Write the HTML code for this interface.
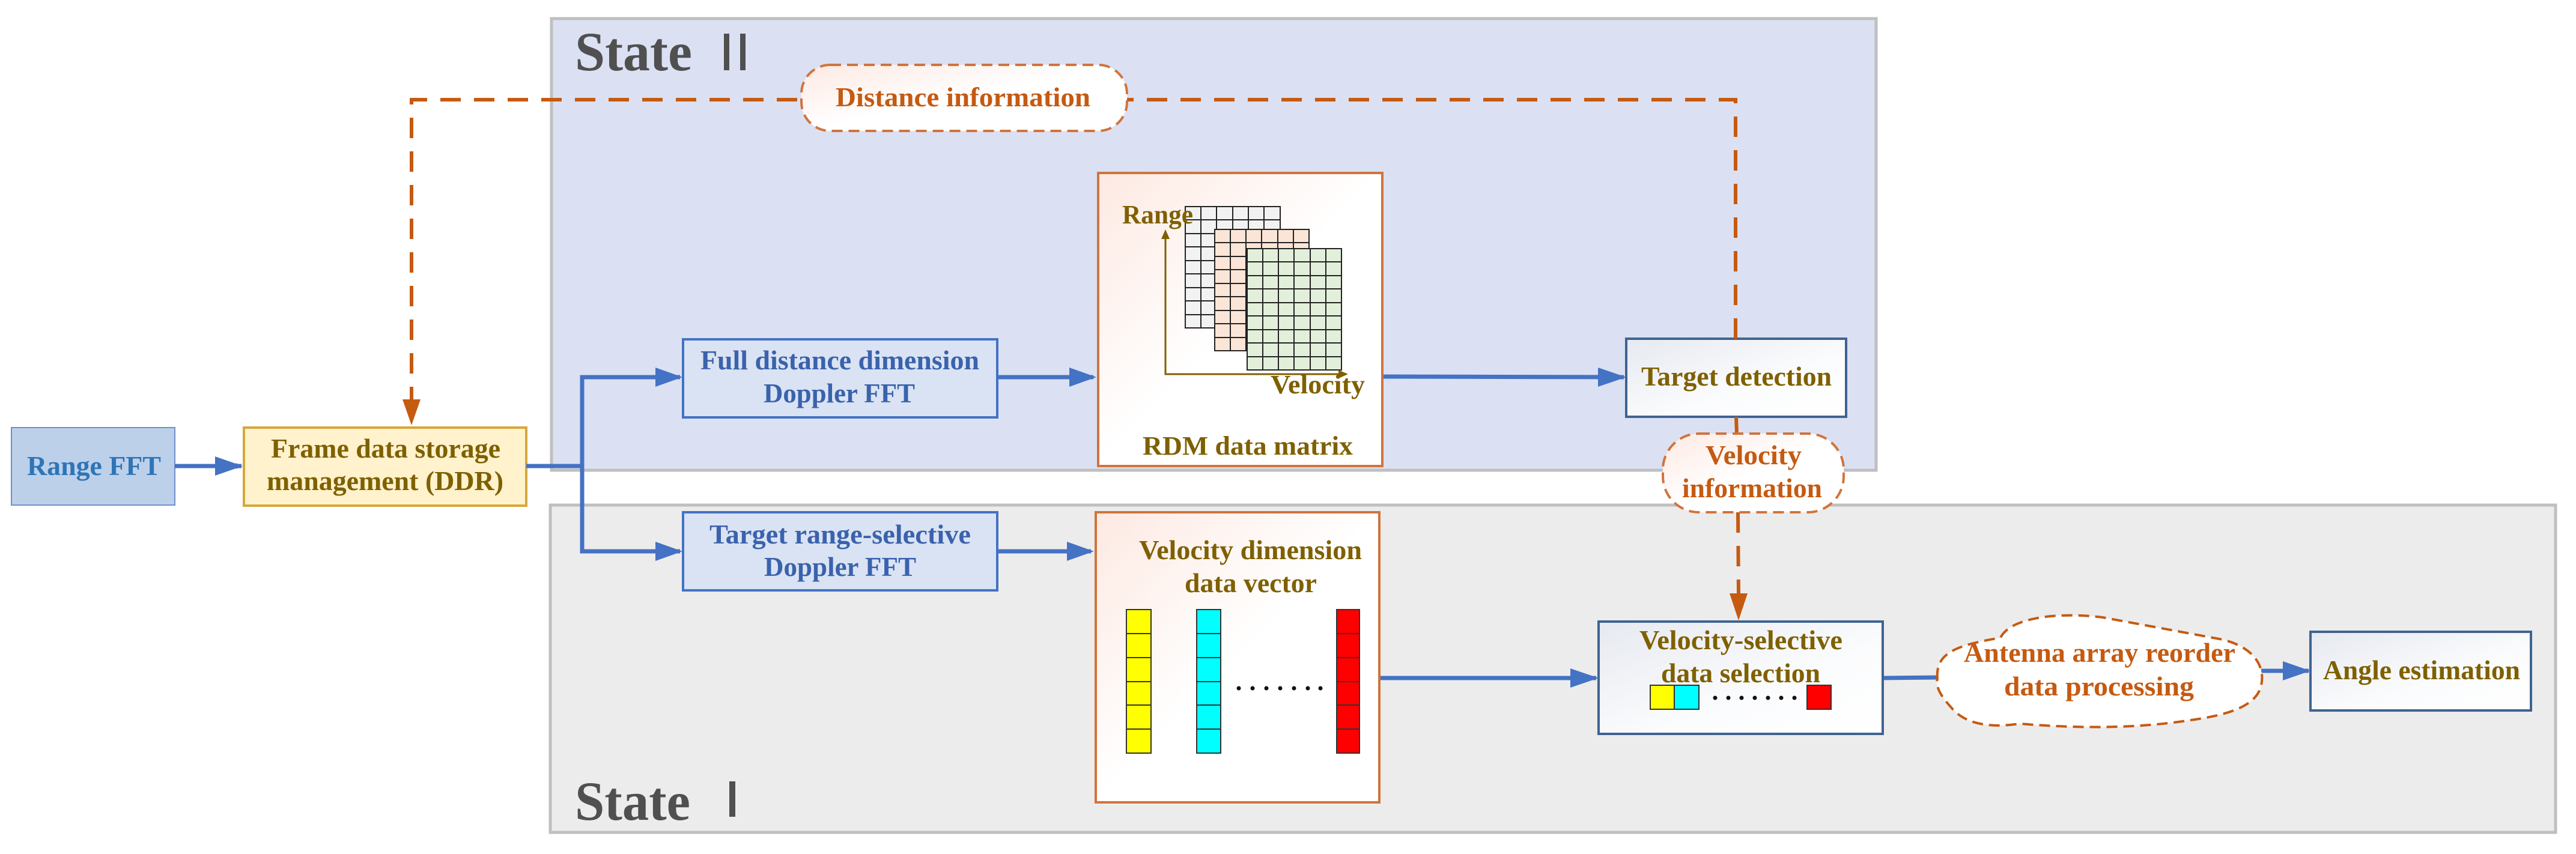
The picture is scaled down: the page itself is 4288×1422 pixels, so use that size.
<!DOCTYPE html>
<html><head><meta charset="utf-8"><style>
html,body{margin:0;padding:0;background:#fff;}
svg{display:block;}
text{font-family:"Liberation Serif",serif;font-weight:bold;}
</style></head><body>
<svg width="4288" height="1422" viewBox="0 0 4288 1422" xmlns="http://www.w3.org/2000/svg">
<defs>
<linearGradient id="gp" x1="0" y1="0" x2="1" y2="1"><stop offset="0" stop-color="#fde9e2"/><stop offset="0.5" stop-color="#fff"/><stop offset="1" stop-color="#fff"/></linearGradient>
<linearGradient id="gb" x1="0" y1="0" x2="1" y2="1"><stop offset="0" stop-color="#e6e9f0"/><stop offset="0.6" stop-color="#fbfcfd"/><stop offset="1" stop-color="#fff"/></linearGradient>
<marker id="ab" markerWidth="10" markerHeight="10" refX="9" refY="5" orient="auto" markerUnits="userSpaceOnUse" viewBox="0 0 10 10"><path d="M0,0 L10,5 L0,10 Z" fill="#4472c4"/></marker>
</defs>
<!-- panels -->
<rect x="918" y="31" width="2205" height="752" fill="#dbe1f3" stroke="#bfbfbf" stroke-width="5"/>
<rect x="916" y="841" width="3338" height="545" fill="#ececec" stroke="#bfbfbf" stroke-width="5"/>
<text x="957" y="117" font-size="92" fill="#505050" textLength="195" lengthAdjust="spacingAndGlyphs">State</text>
<rect x="1205" y="56" width="9" height="61" fill="#505050"/><rect x="1232" y="56" width="9" height="61" fill="#505050"/>
<text x="957" y="1365" font-size="92" fill="#505050" textLength="192" lengthAdjust="spacingAndGlyphs">State</text>
<rect x="1214" y="1301" width="10" height="59" fill="#505050"/>

<!-- Range FFT -->
<rect x="19" y="712" width="272" height="129" fill="#bdd0ea" stroke="#6f8fc8" stroke-width="2"/>
<text x="45" y="791" font-size="46" fill="#2e75b6" textLength="223" lengthAdjust="spacingAndGlyphs">Range FFT</text>
<!-- Frame -->
<rect x="406" y="712" width="470" height="130" fill="#fff2cc" stroke="#d6a73a" stroke-width="4"/>
<text x="451" y="762" font-size="46" fill="#7f6000" textLength="382" lengthAdjust="spacingAndGlyphs">Frame data storage</text>
<text x="444" y="816" font-size="46" fill="#7f6000" textLength="394" lengthAdjust="spacingAndGlyphs">management (DDR)</text>

<!-- blue connectors -->
<g stroke="#4472c4" stroke-width="7" fill="none">
<line x1="291" y1="776" x2="402" y2="776" marker-end="url(#ab)"/>
<polyline points="876,776 969,776 969,628 1132,628"/>
<polyline points="969,776 969,918 1132,918"/>
<line x1="1660" y1="628" x2="1820" y2="628"/>
<line x1="1660" y1="918" x2="1816" y2="918"/>
<line x1="2301" y1="627" x2="2703" y2="628"/>
<line x1="2298" y1="1129" x2="2657" y2="1129"/>
<line x1="3134" y1="1129" x2="3224" y2="1128"/>
<line x1="3764" y1="1117" x2="3843" y2="1117"/>
</g>
<g fill="#4472c4">
<path d="M1091,612 L1136,628 L1091,644Z"/>
<path d="M1091,902 L1136,918 L1091,934Z"/>
<path d="M1780,612 L1825,628 L1780,644Z"/>
<path d="M1776,902 L1821,918 L1776,934Z"/>
<path d="M2660,612 L2707,628 L2660,644Z"/>
<path d="M2614,1113 L2661,1129 L2614,1145Z"/>
<path d="M3800,1101 L3846,1117 L3800,1133Z"/>
<path d="M358,760 L404,776 L358,792Z"/>
</g>

<!-- Full distance -->
<rect x="1137" y="565" width="523" height="130" fill="#dae3f3" stroke="#4472c4" stroke-width="4"/>
<text x="1166" y="615" font-size="46" fill="#3a62ad" textLength="464" lengthAdjust="spacingAndGlyphs">Full distance dimension</text>
<text x="1271" y="670" font-size="46" fill="#3a62ad" textLength="252" lengthAdjust="spacingAndGlyphs">Doppler FFT</text>
<!-- Target range -->
<rect x="1137" y="853" width="523" height="130" fill="#dae3f3" stroke="#4472c4" stroke-width="4"/>
<text x="1181" y="905" font-size="46" fill="#3a62ad" textLength="435" lengthAdjust="spacingAndGlyphs">Target range-selective</text>
<text x="1272" y="959" font-size="46" fill="#3a62ad" textLength="253" lengthAdjust="spacingAndGlyphs">Doppler FFT</text>

<!-- RDM -->
<rect x="1828" y="288" width="473" height="488" fill="url(#gp)" stroke="#d0743c" stroke-width="4"/>
<g stroke="#222" stroke-width="2">
<rect x="1973" y="344" width="158" height="202" fill="#f2f2f2"/>
<path d="M1999,344V546M2025,344V546M2052,344V546M2078,344V546M2104,344V546M1973,366H2131M1973,389H2131M1973,411H2131M1973,434H2131M1973,456H2131M1973,479H2131M1973,501H2131M1973,524H2131"/>
<rect x="2022" y="382" width="157" height="202" fill="#fbe5d6"/>
<path d="M2048,382V584M2074,382V584M2100,382V584M2127,382V584M2153,382V584M2022,404H2179M2022,427H2179M2022,449H2179M2022,472H2179M2022,494H2179M2022,517H2179M2022,539H2179M2022,562H2179"/>
<rect x="2076" y="414" width="157" height="202" fill="#e2efda"/>
<path d="M2102,414V616M2128,414V616M2154,414V616M2181,414V616M2207,414V616M2076,436H2233M2076,459H2233M2076,481H2233M2076,504H2233M2076,526H2233M2076,549H2233M2076,571H2233M2076,594H2233"/>
</g>
<polyline points="1940,392 1940,623 2236,623" fill="none" stroke="#7f6000" stroke-width="3"/>
<path d="M1933,398 L1940,382 L1947,398Z" fill="#7f6000"/>
<path d="M2228,616 L2244,623 L2228,630Z" fill="#7f6000"/>
<text x="1868" y="372" font-size="44" fill="#7f6000" textLength="118" lengthAdjust="spacingAndGlyphs">Range</text>
<text x="2115" y="655" font-size="44" fill="#7f6000" textLength="157" lengthAdjust="spacingAndGlyphs">Velocity</text>
<text x="1902" y="757" font-size="44" fill="#7f6000" textLength="350" lengthAdjust="spacingAndGlyphs">RDM data matrix</text>

<!-- Velocity vector -->
<rect x="1824" y="853" width="472" height="483" fill="url(#gp)" stroke="#d0743c" stroke-width="4"/>
<text x="1896" y="931" font-size="46" fill="#7f6000" textLength="371" lengthAdjust="spacingAndGlyphs">Velocity dimension</text>
<text x="1972" y="986" font-size="46" fill="#7f6000" textLength="220" lengthAdjust="spacingAndGlyphs">data vector</text>
<g stroke="#333" stroke-width="2">
<rect x="1875" y="1015" width="41" height="239" fill="#ffff00"/>
<path d="M1875,1055H1916M1875,1095H1916M1875,1135H1916M1875,1174H1916M1875,1214H1916"/>
<rect x="1992" y="1015" width="40" height="239" fill="#00ffff"/>
<path d="M1992,1055H2032M1992,1095H2032M1992,1135H2032M1992,1174H2032M1992,1214H2032"/>
<rect x="2225" y="1015" width="38" height="239" fill="#ff0000"/>
<path d="M2225,1055H2263M2225,1095H2263M2225,1135H2263M2225,1174H2263M2225,1214H2263"/>
</g>
<g fill="#111"><circle cx="2062" cy="1146" r="3.5"/><circle cx="2085" cy="1146" r="3.5"/><circle cx="2108" cy="1146" r="3.5"/><circle cx="2131" cy="1146" r="3.5"/><circle cx="2154" cy="1146" r="3.5"/><circle cx="2177" cy="1146" r="3.5"/><circle cx="2198" cy="1146" r="3.5"/></g>

<!-- Target detection -->
<rect x="2707" y="564" width="366" height="130" fill="url(#gb)" stroke="#3f6391" stroke-width="4"/>
<text x="2732" y="642" font-size="46" fill="#7f6000" textLength="317" lengthAdjust="spacingAndGlyphs">Target detection</text>

<!-- Velocity-selective -->
<rect x="2661" y="1035" width="473" height="187" fill="url(#gb)" stroke="#3f6391" stroke-width="4"/>
<text x="2729" y="1081" font-size="46" fill="#7f6000" textLength="338" lengthAdjust="spacingAndGlyphs">Velocity-selective</text>
<text x="2765" y="1136" font-size="46" fill="#7f6000" textLength="265" lengthAdjust="spacingAndGlyphs">data selection</text>
<rect x="2747" y="1141" width="40" height="40" fill="#ffff00" stroke="#333" stroke-width="2"/>
<rect x="2787" y="1141" width="41" height="40" fill="#00ffff" stroke="#333" stroke-width="2"/>
<rect x="3008" y="1141" width="40" height="40" fill="#ff0000" stroke="#333" stroke-width="2"/>
<g fill="#111"><circle cx="2855" cy="1162" r="3.5"/><circle cx="2877" cy="1162" r="3.5"/><circle cx="2899" cy="1162" r="3.5"/><circle cx="2921" cy="1162" r="3.5"/><circle cx="2943" cy="1162" r="3.5"/><circle cx="2965" cy="1162" r="3.5"/><circle cx="2987" cy="1162" r="3.5"/></g>

<!-- Angle -->
<rect x="3846" y="1052" width="367" height="131" fill="url(#gb)" stroke="#3f6391" stroke-width="4"/>
<text x="3867" y="1131" font-size="46" fill="#7f6000" textLength="328" lengthAdjust="spacingAndGlyphs">Angle estimation</text>

<!-- dashed orange connectors -->
<g stroke="#c55a11" stroke-width="6" fill="none" stroke-dasharray="34,22">
<polyline points="2889,564 2889,166 685,166 685,665"/>
<line x1="2890" y1="694" x2="2891" y2="722"/>
<line x1="2893" y1="853" x2="2894" y2="990"/>
</g>
<path d="M670,665 L685,708 L700,665Z" fill="#c55a11"/>
<path d="M2879,988 L2894,1033 L2909,988Z" fill="#c55a11"/>

<!-- Distance information pill -->
<rect x="1334" y="108" width="542" height="110" rx="48" fill="url(#gp)" stroke="#d0743c" stroke-width="4" stroke-dasharray="18,10"/>
<text x="1391" y="177" font-size="46" fill="#c55a11" textLength="424" lengthAdjust="spacingAndGlyphs">Distance  information</text>
<!-- Velocity information pill -->
<rect x="2768" y="722" width="301" height="131" rx="60" fill="url(#gp)" stroke="#d0743c" stroke-width="4" stroke-dasharray="18,10"/>
<text x="2839" y="773" font-size="46" fill="#c55a11" textLength="160" lengthAdjust="spacingAndGlyphs">Velocity</text>
<text x="2800" y="828" font-size="46" fill="#c55a11" textLength="233" lengthAdjust="spacingAndGlyphs">information</text>

<!-- cloud -->
<path d="M3225,1130 C3222,1090 3250,1075 3330,1062 C3345,1030 3420,1018 3500,1028 C3565,1040 3630,1052 3700,1065 C3760,1080 3775,1120 3760,1152 C3745,1180 3700,1192 3640,1200 C3560,1212 3470,1214 3362,1205 C3310,1213 3270,1205 3248,1178 C3228,1156 3222,1142 3225,1130 Z" fill="#fff" stroke="#c55a11" stroke-width="4" stroke-dasharray="18,10"/>
<text x="3269" y="1102" font-size="46" fill="#c55a11" textLength="452" lengthAdjust="spacingAndGlyphs">Antenna array reorder</text>
<text x="3336" y="1158" font-size="46" fill="#c55a11" textLength="316" lengthAdjust="spacingAndGlyphs">data  processing</text>
</svg>
</body></html>
